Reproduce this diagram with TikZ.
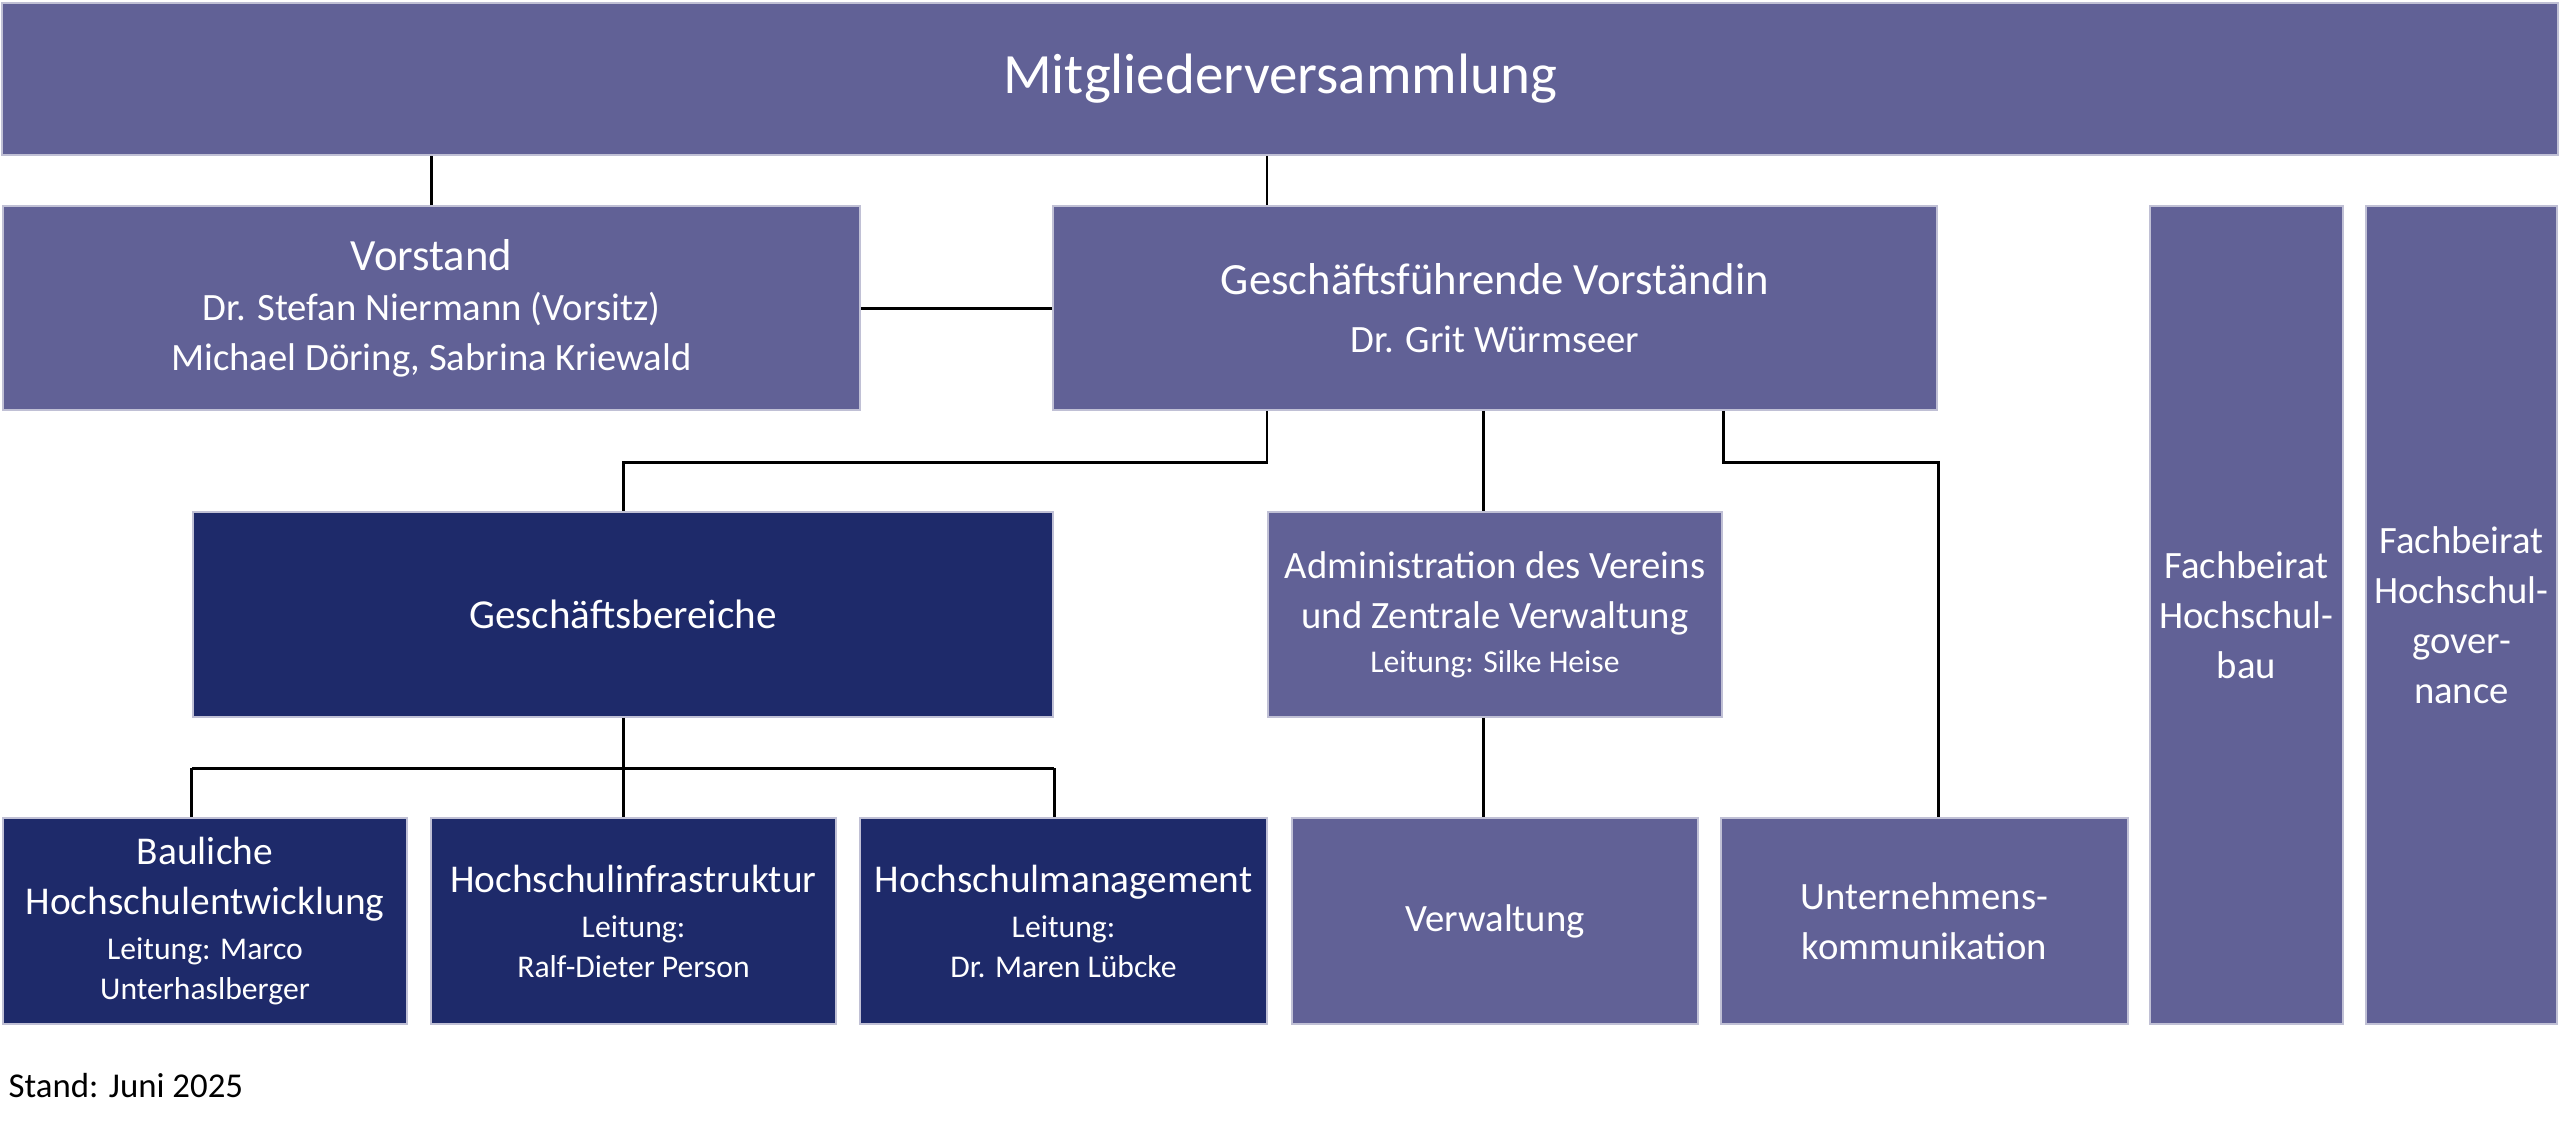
\documentclass[tikz,border=0pt]{standalone}
\usepackage{fontspec}
\setmainfont{Carlito}
\definecolor{lila}{RGB}{97,97,150}
\definecolor{navy}{RGB}{30,42,106}
\tikzset{
  orgbox/.style={rectangle, fill=lila, draw=lila!40!white, line width=.5pt, text=white, align=center, inner sep=0pt, font=\fontsize{11}{14.2}\selectfont},
  darkbox/.style={orgbox, fill=navy},
  link/.style={line width=.85pt},
}
\newcommand{\leit}{\fontsize{9}{11}\selectfont}
\newcommand{\titel}{\fontsize{12.7}{15}\selectfont}
\begin{document}
\begin{tikzpicture}[x=0.01cm, y=-0.01cm]
\useasboundingbox (0,0) rectangle (2560,1123);
\node[orgbox, minimum width=25.54cm, minimum height=1.52cm, font=\fontsize{16.2}{19}\selectfont] (mv) at (1280,79){Mitgliederversammlung};
\node[orgbox, minimum width=8.57cm, minimum height=2.04cm] (vorstand) at (431.5,308){{\titel Vorstand}\\Dr. Stefan Niermann (Vorsitz)\\Michael Döring, Sabrina Kriewald};
\node[orgbox, minimum width=8.84cm, minimum height=2.04cm] (gf) at (1495,308){{\titel Geschäftsführende Vorständin}\\[2.3pt]Dr. Grit Würmseer};
\draw[link] (vorstand.north) -- (vorstand.north |- mv.south);
\draw[link] (vorstand.east) -- (gf.west);
\node[darkbox, minimum width=8.6cm, minimum height=2.05cm, font=\fontsize{11.7}{14}\selectfont] (gb) at (623,614.5){Geschäftsbereiche};
\node[orgbox, minimum width=4.54cm, minimum height=2.05cm] (adm) at (1495,614.5){Administration des Vereins\\und Zentrale Verwaltung\\[-1.7pt]{\leit Leitung: Silke Heise}};
\draw[link] (adm.west |- mv.south) -- (adm.west |- gf.north);
\coordinate (gfbus) at (0,462);
\coordinate (gbbus) at (0,768);
\node[orgbox, minimum width=1.93cm, minimum height=8.18cm] (fbbau) at (2246.5,615){Fachbeirat\\Hochschul-\\bau};
\node[orgbox, minimum width=1.91cm, minimum height=8.18cm] (fbgov) at (2461.5,615){Fachbeirat\\Hochschul-\\gover-\\nance};
\node[darkbox, minimum width=4.04cm, minimum height=2.06cm, font=\fontsize{11.2}{14.2}\selectfont] (bau) at (205,921){Bauliche\\Hochschulentwicklung\\[-1.4pt]{\leit Leitung: Marco}\\[-2.8pt]{\leit Unterhaslberger}};
\node[darkbox, minimum width=4.05cm, minimum height=2.06cm, font=\fontsize{11.2}{14.2}\selectfont] (infra) at (633.5,921){Hochschulinfrastruktur\\[-1.4pt]{\leit Leitung:}\\[-2.8pt]{\leit Ralf-Dieter Person}};
\node[darkbox, minimum width=4.07cm, minimum height=2.06cm, font=\fontsize{11.2}{14.2}\selectfont] (mgmt) at (1063.5,921){Hochschulmanagement\\[-1.4pt]{\leit Leitung:}\\[-2.8pt]{\leit Dr. Maren Lübcke}};
\node[orgbox, minimum width=4.06cm, minimum height=2.06cm] (verw) at (1495,921){Verwaltung};
\node[orgbox, minimum width=4.07cm, minimum height=2.06cm] (uk) at (1924.5,921){Unternehmens-\\kommunikation};
\draw[link] (adm.west |- gf.south) -- (adm.west |- gfbus) -| (gb.north);
\draw[link] ([xshift=-0.12cm]adm.north |- gf.south) -- ([xshift=-0.12cm]adm.north);
\draw[link] (adm.east |- gf.south) -- (adm.east |- gfbus) -| (uk.north -| gf.east);
\draw[link] ([xshift=-0.12cm]adm.south) -- ([xshift=-0.12cm]adm.south |- verw.north);
\draw[link] (gb.south) -- (gb.south |- gbbus);
\draw[link] (gb.south west |- gbbus) -- (gb.south east |- gbbus);
\draw[link] (gb.south west |- gbbus) -- (gb.south west |- bau.north);
\draw[link] (gb.south |- gbbus) -- (gb.south |- infra.north);
\draw[link] (gb.south east |- gbbus) -- (gb.south east |- mgmt.north);
\node[anchor=base west, inner sep=0pt, font=\fontsize{9.9}{12}\selectfont] (stand) at (8,1097){Stand: Juni 2025};
\end{tikzpicture}
\end{document}
